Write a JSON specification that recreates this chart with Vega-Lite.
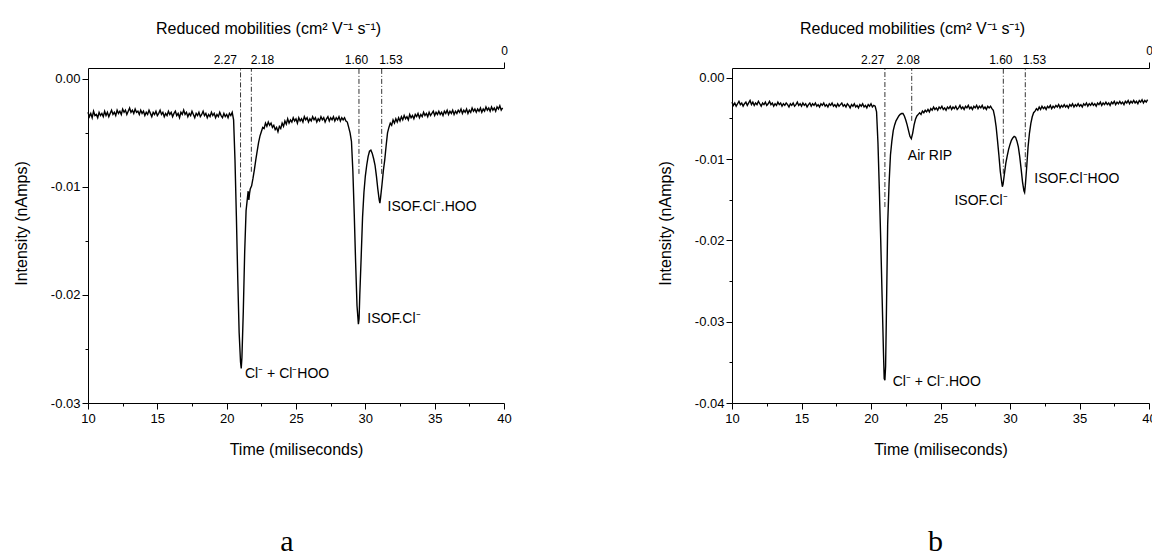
{
"$schema": "https://vega.github.io/schema/vega-lite/v6.json",
"background": "white",
"padding": {"left": 13, "top": 20, "right": 0, "bottom": 0},
"config": {"view": {"stroke": null}, "font": "Liberation Sans",
 "axis": {"grid": false, "labelFont": "Liberation Sans", "titleFont": "Liberation Sans", "labelFontSize": 13, "titleFontSize": 16, "titleFontWeight": "normal", "labelColor": "black", "titleColor": "black", "domainColor": "black", "tickColor": "black", "domainWidth": 1, "tickWidth": 1, "labelFlush": false, "labelOverlap": false}},
"spacing": 145,
"datasets": {
"a": [{"t":10.0,"i":-0.0031},{"t":10.1,"i":-0.0035},{"t":10.2,"i":-0.0032},{"t":10.3,"i":-0.0036},{"t":10.4,"i":-0.0030},{"t":10.5,"i":-0.0034},{"t":10.6,"i":-0.0033},{"t":10.7,"i":-0.0036},{"t":10.8,"i":-0.0031},{"t":10.9,"i":-0.0034},{"t":11.0,"i":-0.0032},{"t":11.1,"i":-0.0035},{"t":11.2,"i":-0.0030},{"t":11.3,"i":-0.0034},{"t":11.4,"i":-0.0031},{"t":11.5,"i":-0.0035},{"t":11.6,"i":-0.0032},{"t":11.7,"i":-0.0029},{"t":11.8,"i":-0.0033},{"t":11.9,"i":-0.0031},{"t":12.0,"i":-0.0034},{"t":12.1,"i":-0.0029},{"t":12.2,"i":-0.0032},{"t":12.3,"i":-0.0030},{"t":12.4,"i":-0.0033},{"t":12.5,"i":-0.0028},{"t":12.6,"i":-0.0031},{"t":12.7,"i":-0.0029},{"t":12.8,"i":-0.0033},{"t":12.9,"i":-0.0030},{"t":13.0,"i":-0.0027},{"t":13.1,"i":-0.0031},{"t":13.2,"i":-0.0029},{"t":13.3,"i":-0.0032},{"t":13.4,"i":-0.0028},{"t":13.5,"i":-0.0031},{"t":13.6,"i":-0.0030},{"t":13.7,"i":-0.0033},{"t":13.8,"i":-0.0029},{"t":13.9,"i":-0.0032},{"t":14.0,"i":-0.0030},{"t":14.1,"i":-0.0034},{"t":14.2,"i":-0.0031},{"t":14.3,"i":-0.0033},{"t":14.4,"i":-0.0029},{"t":14.5,"i":-0.0032},{"t":14.6,"i":-0.0035},{"t":14.7,"i":-0.0031},{"t":14.8,"i":-0.0033},{"t":14.9,"i":-0.0030},{"t":15.0,"i":-0.0034},{"t":15.1,"i":-0.0032},{"t":15.2,"i":-0.0029},{"t":15.3,"i":-0.0033},{"t":15.4,"i":-0.0031},{"t":15.5,"i":-0.0035},{"t":15.6,"i":-0.0032},{"t":15.7,"i":-0.0034},{"t":15.8,"i":-0.0030},{"t":15.9,"i":-0.0033},{"t":16.0,"i":-0.0031},{"t":16.1,"i":-0.0035},{"t":16.2,"i":-0.0032},{"t":16.3,"i":-0.0030},{"t":16.4,"i":-0.0034},{"t":16.5,"i":-0.0032},{"t":16.6,"i":-0.0036},{"t":16.7,"i":-0.0031},{"t":16.8,"i":-0.0033},{"t":16.9,"i":-0.0029},{"t":17.0,"i":-0.0033},{"t":17.1,"i":-0.0031},{"t":17.2,"i":-0.0035},{"t":17.3,"i":-0.0032},{"t":17.4,"i":-0.0034},{"t":17.5,"i":-0.0030},{"t":17.6,"i":-0.0033},{"t":17.7,"i":-0.0036},{"t":17.8,"i":-0.0032},{"t":17.9,"i":-0.0034},{"t":18.0,"i":-0.0031},{"t":18.1,"i":-0.0035},{"t":18.2,"i":-0.0033},{"t":18.3,"i":-0.0030},{"t":18.4,"i":-0.0034},{"t":18.5,"i":-0.0032},{"t":18.6,"i":-0.0036},{"t":18.7,"i":-0.0033},{"t":18.8,"i":-0.0035},{"t":18.9,"i":-0.0031},{"t":19.0,"i":-0.0034},{"t":19.1,"i":-0.0032},{"t":19.2,"i":-0.0036},{"t":19.3,"i":-0.0033},{"t":19.4,"i":-0.0035},{"t":19.5,"i":-0.0031},{"t":19.6,"i":-0.0034},{"t":19.7,"i":-0.0036},{"t":19.8,"i":-0.0032},{"t":19.9,"i":-0.0035},{"t":20.0,"i":-0.0033},{"t":20.1,"i":-0.0036},{"t":20.2,"i":-0.0032},{"t":20.3,"i":-0.0034},{"t":20.4,"i":-0.0031},
{"t":20.5,"i":-0.0038},{"t":20.6,"i":-0.0075},{"t":20.7,"i":-0.0127},{"t":20.8,"i":-0.0185},{"t":20.9,"i":-0.0235},{"t":21.0,"i":-0.0262},{"t":21.05,"i":-0.0268},{"t":21.1,"i":-0.0258},{"t":21.2,"i":-0.0215},{"t":21.3,"i":-0.0160},{"t":21.4,"i":-0.0122},{"t":21.5,"i":-0.0110},{"t":21.55,"i":-0.0104},{"t":21.6,"i":-0.0112},{"t":21.65,"i":-0.0106},{"t":21.7,"i":-0.0102},{"t":21.8,"i":-0.0099},{"t":21.9,"i":-0.0092},{"t":22.0,"i":-0.0084},{"t":22.1,"i":-0.0075},{"t":22.2,"i":-0.0067},{"t":22.3,"i":-0.0059},{"t":22.4,"i":-0.0053},{"t":22.5,"i":-0.0049},{"t":22.6,"i":-0.0045},{"t":22.7,"i":-0.0046},{"t":22.8,"i":-0.0041},{"t":22.9,"i":-0.0044},{"t":23.0,"i":-0.0040},{"t":23.1,"i":-0.0043},{"t":23.2,"i":-0.0041},{"t":23.3,"i":-0.0045},{"t":23.4,"i":-0.0043},{"t":23.5,"i":-0.0047},{"t":23.6,"i":-0.0045},{"t":23.7,"i":-0.0049},{"t":23.8,"i":-0.0044},{"t":23.9,"i":-0.0046},{"t":24.0,"i":-0.0041},{"t":24.1,"i":-0.0044},{"t":24.2,"i":-0.0039},{"t":24.3,"i":-0.0042},{"t":24.4,"i":-0.0037},{"t":24.5,"i":-0.0041},{"t":24.6,"i":-0.0038},{"t":24.7,"i":-0.0040},{"t":24.8,"i":-0.0036},{"t":24.9,"i":-0.0039},{"t":25.0,"i":-0.0037},{"t":25.1,"i":-0.0041},{"t":25.2,"i":-0.0036},{"t":25.3,"i":-0.0039},{"t":25.4,"i":-0.0037},{"t":25.5,"i":-0.0040},{"t":25.6,"i":-0.0035},{"t":25.7,"i":-0.0038},{"t":25.8,"i":-0.0036},{"t":25.9,"i":-0.0040},{"t":26.0,"i":-0.0037},{"t":26.1,"i":-0.0039},{"t":26.2,"i":-0.0035},{"t":26.3,"i":-0.0038},{"t":26.4,"i":-0.0036},{"t":26.5,"i":-0.0040},{"t":26.6,"i":-0.0037},{"t":26.7,"i":-0.0039},{"t":26.8,"i":-0.0035},{"t":26.9,"i":-0.0038},{"t":27.0,"i":-0.0036},{"t":27.1,"i":-0.0040},{"t":27.2,"i":-0.0037},{"t":27.3,"i":-0.0035},{"t":27.4,"i":-0.0039},{"t":27.5,"i":-0.0036},{"t":27.6,"i":-0.0038},{"t":27.7,"i":-0.0035},{"t":27.8,"i":-0.0039},{"t":27.9,"i":-0.0036},{"t":28.0,"i":-0.0038},{"t":28.1,"i":-0.0035},{"t":28.2,"i":-0.0039},{"t":28.3,"i":-0.0036},{"t":28.4,"i":-0.0038},{"t":28.5,"i":-0.0036},{"t":28.6,"i":-0.0039},{"t":28.7,"i":-0.0040},{"t":28.8,"i":-0.0045},{"t":28.9,"i":-0.0050},{"t":29.0,"i":-0.0058},{"t":29.1,"i":-0.0085},{"t":29.2,"i":-0.0125},{"t":29.3,"i":-0.0170},{"t":29.4,"i":-0.0210},{"t":29.5,"i":-0.0227},{"t":29.55,"i":-0.0222},{"t":29.6,"i":-0.0200},{"t":29.7,"i":-0.0165},{"t":29.8,"i":-0.0128},{"t":29.9,"i":-0.0105},{"t":30.0,"i":-0.0090},{"t":30.1,"i":-0.0080},{"t":30.2,"i":-0.0072},{"t":30.3,"i":-0.0067},{"t":30.4,"i":-0.0066},{"t":30.5,"i":-0.0069},{"t":30.6,"i":-0.0074},{"t":30.7,"i":-0.0080},{"t":30.8,"i":-0.0090},{"t":30.9,"i":-0.0102},{"t":31.0,"i":-0.0112},{"t":31.05,"i":-0.0115},{"t":31.1,"i":-0.0110},{"t":31.2,"i":-0.0098},{"t":31.3,"i":-0.0085},{"t":31.4,"i":-0.0075},{"t":31.5,"i":-0.0062},{"t":31.6,"i":-0.0050},{"t":31.7,"i":-0.0045},{"t":31.8,"i":-0.0041},{"t":31.9,"i":-0.0043},{"t":32.0,"i":-0.0038},{"t":32.1,"i":-0.0041},{"t":32.2,"i":-0.0037},{"t":32.3,"i":-0.0040},{"t":32.4,"i":-0.0036},{"t":32.5,"i":-0.0039},{"t":32.6,"i":-0.0035},{"t":32.7,"i":-0.0038},{"t":32.8,"i":-0.0034},{"t":32.9,"i":-0.0037},{"t":33.0,"i":-0.0035},{"t":33.1,"i":-0.0038},{"t":33.2,"i":-0.0033},{"t":33.3,"i":-0.0036},{"t":33.4,"i":-0.0034},{"t":33.5,"i":-0.0037},{"t":33.6,"i":-0.0033},{"t":33.7,"i":-0.0035},{"t":33.8,"i":-0.0032},{"t":33.9,"i":-0.0036},{"t":34.0,"i":-0.0033},{"t":34.1,"i":-0.0035},{"t":34.2,"i":-0.0031},{"t":34.3,"i":-0.0034},{"t":34.4,"i":-0.0032},{"t":34.5,"i":-0.0035},{"t":34.6,"i":-0.0031},{"t":34.7,"i":-0.0034},{"t":34.8,"i":-0.0032},{"t":34.9,"i":-0.0030},{"t":35.0,"i":-0.0034},{"t":35.1,"i":-0.0031},{"t":35.2,"i":-0.0033},{"t":35.3,"i":-0.0030},{"t":35.4,"i":-0.0033},{"t":35.5,"i":-0.0031},{"t":35.6,"i":-0.0034},{"t":35.7,"i":-0.0030},{"t":35.8,"i":-0.0032},{"t":35.9,"i":-0.0029},{"t":36.0,"i":-0.0033},{"t":36.1,"i":-0.0030},{"t":36.2,"i":-0.0032},{"t":36.3,"i":-0.0029},{"t":36.4,"i":-0.0033},{"t":36.5,"i":-0.0030},{"t":36.6,"i":-0.0032},{"t":36.7,"i":-0.0029},{"t":36.8,"i":-0.0031},{"t":36.9,"i":-0.0028},{"t":37.0,"i":-0.0032},{"t":37.1,"i":-0.0029},{"t":37.2,"i":-0.0031},{"t":37.3,"i":-0.0028},{"t":37.4,"i":-0.0032},{"t":37.5,"i":-0.0029},{"t":37.6,"i":-0.0031},{"t":37.7,"i":-0.0027},{"t":37.8,"i":-0.0030},{"t":37.9,"i":-0.0028},{"t":38.0,"i":-0.0031},{"t":38.1,"i":-0.0028},{"t":38.2,"i":-0.0030},{"t":38.3,"i":-0.0027},{"t":38.4,"i":-0.0031},{"t":38.5,"i":-0.0028},{"t":38.6,"i":-0.0030},{"t":38.7,"i":-0.0026},{"t":38.8,"i":-0.0029},{"t":38.9,"i":-0.0027},{"t":39.0,"i":-0.0030},{"t":39.1,"i":-0.0026},{"t":39.2,"i":-0.0029},{"t":39.3,"i":-0.0027},{"t":39.4,"i":-0.0030},{"t":39.5,"i":-0.0026},{"t":39.6,"i":-0.0028},{"t":39.7,"i":-0.0025},{"t":39.8,"i":-0.0029},{"t":39.9,"i":-0.0027}],
"b": [{"t":10.0,"i":-0.0030},{"t":10.1,"i":-0.0034},{"t":10.2,"i":-0.0031},{"t":10.3,"i":-0.0035},{"t":10.4,"i":-0.0032},{"t":10.5,"i":-0.0029},{"t":10.6,"i":-0.0033},{"t":10.7,"i":-0.0031},{"t":10.8,"i":-0.0035},{"t":10.9,"i":-0.0032},{"t":11.0,"i":-0.0030},{"t":11.1,"i":-0.0034},{"t":11.2,"i":-0.0031},{"t":11.3,"i":-0.0028},{"t":11.4,"i":-0.0033},{"t":11.5,"i":-0.0030},{"t":11.6,"i":-0.0034},{"t":11.7,"i":-0.0031},{"t":11.8,"i":-0.0033},{"t":11.9,"i":-0.0029},{"t":12.0,"i":-0.0032},{"t":12.1,"i":-0.0035},{"t":12.2,"i":-0.0031},{"t":12.3,"i":-0.0033},{"t":12.4,"i":-0.0030},{"t":12.5,"i":-0.0034},{"t":12.6,"i":-0.0032},{"t":12.7,"i":-0.0029},{"t":12.8,"i":-0.0033},{"t":12.9,"i":-0.0031},{"t":13.0,"i":-0.0035},{"t":13.1,"i":-0.0032},{"t":13.2,"i":-0.0034},{"t":13.3,"i":-0.0030},{"t":13.4,"i":-0.0033},{"t":13.5,"i":-0.0031},{"t":13.6,"i":-0.0035},{"t":13.7,"i":-0.0032},{"t":13.8,"i":-0.0034},{"t":13.9,"i":-0.0031},{"t":14.0,"i":-0.0033},{"t":14.1,"i":-0.0036},{"t":14.2,"i":-0.0032},{"t":14.3,"i":-0.0034},{"t":14.4,"i":-0.0031},{"t":14.5,"i":-0.0035},{"t":14.6,"i":-0.0033},{"t":14.7,"i":-0.0030},{"t":14.8,"i":-0.0034},{"t":14.9,"i":-0.0032},{"t":15.0,"i":-0.0035},{"t":15.1,"i":-0.0031},{"t":15.2,"i":-0.0034},{"t":15.3,"i":-0.0032},{"t":15.4,"i":-0.0036},{"t":15.5,"i":-0.0033},{"t":15.6,"i":-0.0031},{"t":15.7,"i":-0.0035},{"t":15.8,"i":-0.0032},{"t":15.9,"i":-0.0034},{"t":16.0,"i":-0.0031},{"t":16.1,"i":-0.0035},{"t":16.2,"i":-0.0033},{"t":16.3,"i":-0.0036},{"t":16.4,"i":-0.0032},{"t":16.5,"i":-0.0034},{"t":16.6,"i":-0.0031},{"t":16.7,"i":-0.0035},{"t":16.8,"i":-0.0033},{"t":16.9,"i":-0.0036},{"t":17.0,"i":-0.0032},{"t":17.1,"i":-0.0034},{"t":17.2,"i":-0.0031},{"t":17.3,"i":-0.0035},{"t":17.4,"i":-0.0033},{"t":17.5,"i":-0.0036},{"t":17.6,"i":-0.0032},{"t":17.7,"i":-0.0035},{"t":17.8,"i":-0.0033},{"t":17.9,"i":-0.0031},{"t":18.0,"i":-0.0035},{"t":18.1,"i":-0.0033},{"t":18.2,"i":-0.0036},{"t":18.3,"i":-0.0032},{"t":18.4,"i":-0.0034},{"t":18.5,"i":-0.0037},{"t":18.6,"i":-0.0033},{"t":18.7,"i":-0.0035},{"t":18.8,"i":-0.0032},{"t":18.9,"i":-0.0036},{"t":19.0,"i":-0.0034},{"t":19.1,"i":-0.0037},{"t":19.2,"i":-0.0033},{"t":19.3,"i":-0.0035},{"t":19.4,"i":-0.0032},{"t":19.5,"i":-0.0036},{"t":19.6,"i":-0.0034},{"t":19.7,"i":-0.0037},{"t":19.8,"i":-0.0033},{"t":19.9,"i":-0.0035},{"t":20.0,"i":-0.0032},{"t":20.1,"i":-0.0036},{"t":20.2,"i":-0.0034},
{"t":20.3,"i":-0.0035},{"t":20.4,"i":-0.0042},{"t":20.5,"i":-0.0080},{"t":20.6,"i":-0.0137},{"t":20.7,"i":-0.0200},{"t":20.8,"i":-0.0270},{"t":20.9,"i":-0.0340},{"t":20.95,"i":-0.0370},{"t":21.0,"i":-0.0372},{"t":21.05,"i":-0.0355},{"t":21.1,"i":-0.0300},{"t":21.2,"i":-0.0180},{"t":21.3,"i":-0.0130},{"t":21.4,"i":-0.0095},{"t":21.5,"i":-0.0078},{"t":21.6,"i":-0.0065},{"t":21.7,"i":-0.0058},{"t":21.8,"i":-0.0053},{"t":21.9,"i":-0.0050},{"t":22.0,"i":-0.0047},{"t":22.1,"i":-0.0045},{"t":22.2,"i":-0.0044},{"t":22.3,"i":-0.0044},{"t":22.4,"i":-0.0047},{"t":22.5,"i":-0.0052},{"t":22.6,"i":-0.0058},{"t":22.7,"i":-0.0065},{"t":22.8,"i":-0.0072},{"t":22.9,"i":-0.0075},{"t":23.0,"i":-0.0068},{"t":23.1,"i":-0.0058},{"t":23.2,"i":-0.0051},{"t":23.3,"i":-0.0047},{"t":23.4,"i":-0.0045},{"t":23.5,"i":-0.0043},{"t":23.6,"i":-0.0045},{"t":23.7,"i":-0.0041},{"t":23.8,"i":-0.0043},{"t":23.9,"i":-0.0040},{"t":24.0,"i":-0.0042},
{"t":24.1,"i":-0.0039},{"t":24.2,"i":-0.0042},{"t":24.3,"i":-0.0038},{"t":24.4,"i":-0.0040},{"t":24.5,"i":-0.0036},{"t":24.6,"i":-0.0039},{"t":24.7,"i":-0.0037},{"t":24.8,"i":-0.0040},{"t":24.9,"i":-0.0036},{"t":25.0,"i":-0.0038},{"t":25.1,"i":-0.0035},{"t":25.2,"i":-0.0039},{"t":25.3,"i":-0.0037},{"t":25.4,"i":-0.0040},{"t":25.5,"i":-0.0036},{"t":25.6,"i":-0.0038},{"t":25.7,"i":-0.0035},{"t":25.8,"i":-0.0039},{"t":25.9,"i":-0.0036},{"t":26.0,"i":-0.0038},{"t":26.1,"i":-0.0035},{"t":26.2,"i":-0.0039},{"t":26.3,"i":-0.0037},{"t":26.4,"i":-0.0034},{"t":26.5,"i":-0.0038},{"t":26.6,"i":-0.0036},{"t":26.7,"i":-0.0039},{"t":26.8,"i":-0.0035},{"t":26.9,"i":-0.0037},{"t":27.0,"i":-0.0034},{"t":27.1,"i":-0.0038},{"t":27.2,"i":-0.0036},{"t":27.3,"i":-0.0039},{"t":27.4,"i":-0.0035},{"t":27.5,"i":-0.0037},{"t":27.6,"i":-0.0034},{"t":27.7,"i":-0.0038},{"t":27.8,"i":-0.0035},{"t":27.9,"i":-0.0037},{"t":28.0,"i":-0.0034},{"t":28.1,"i":-0.0038},{"t":28.2,"i":-0.0036},{"t":28.3,"i":-0.0039},{"t":28.4,"i":-0.0035},{"t":28.5,"i":-0.0037},{"t":28.6,"i":-0.0035},{"t":28.7,"i":-0.0038},{"t":28.8,"i":-0.0040},
{"t":28.9,"i":-0.0048},{"t":29.0,"i":-0.0060},{"t":29.1,"i":-0.0077},{"t":29.2,"i":-0.0095},{"t":29.3,"i":-0.0115},{"t":29.4,"i":-0.0128},{"t":29.45,"i":-0.0134},{"t":29.5,"i":-0.0131},{"t":29.6,"i":-0.0118},{"t":29.7,"i":-0.0105},{"t":29.8,"i":-0.0096},{"t":29.9,"i":-0.0088},{"t":30.0,"i":-0.0082},{"t":30.1,"i":-0.0077},{"t":30.2,"i":-0.0074},{"t":30.3,"i":-0.0072},{"t":30.4,"i":-0.0073},{"t":30.5,"i":-0.0078},{"t":30.6,"i":-0.0085},{"t":30.7,"i":-0.0097},{"t":30.8,"i":-0.0112},{"t":30.9,"i":-0.0128},{"t":31.0,"i":-0.0139},{"t":31.05,"i":-0.0141},{"t":31.1,"i":-0.0133},{"t":31.2,"i":-0.0110},{"t":31.3,"i":-0.0085},{"t":31.4,"i":-0.0068},{"t":31.5,"i":-0.0056},{"t":31.6,"i":-0.0048},{"t":31.7,"i":-0.0043},{"t":31.8,"i":-0.0041},{"t":31.9,"i":-0.0038},
{"t":32.0,"i":-0.0040},{"t":32.1,"i":-0.0036},{"t":32.2,"i":-0.0039},{"t":32.3,"i":-0.0035},{"t":32.4,"i":-0.0038},{"t":32.5,"i":-0.0036},{"t":32.6,"i":-0.0039},{"t":32.7,"i":-0.0035},{"t":32.8,"i":-0.0037},{"t":32.9,"i":-0.0034},{"t":33.0,"i":-0.0038},{"t":33.1,"i":-0.0035},{"t":33.2,"i":-0.0037},{"t":33.3,"i":-0.0034},{"t":33.4,"i":-0.0036},{"t":33.5,"i":-0.0033},{"t":33.6,"i":-0.0037},{"t":33.7,"i":-0.0034},{"t":33.8,"i":-0.0036},{"t":33.9,"i":-0.0033},{"t":34.0,"i":-0.0036},{"t":34.1,"i":-0.0034},{"t":34.2,"i":-0.0037},{"t":34.3,"i":-0.0033},{"t":34.4,"i":-0.0035},{"t":34.5,"i":-0.0032},{"t":34.6,"i":-0.0036},{"t":34.7,"i":-0.0033},{"t":34.8,"i":-0.0035},{"t":34.9,"i":-0.0032},{"t":35.0,"i":-0.0035},{"t":35.1,"i":-0.0033},{"t":35.2,"i":-0.0036},{"t":35.3,"i":-0.0032},{"t":35.4,"i":-0.0034},{"t":35.5,"i":-0.0031},{"t":35.6,"i":-0.0035},{"t":35.7,"i":-0.0032},{"t":35.8,"i":-0.0034},{"t":35.9,"i":-0.0031},{"t":36.0,"i":-0.0034},{"t":36.1,"i":-0.0032},{"t":36.2,"i":-0.0035},{"t":36.3,"i":-0.0031},{"t":36.4,"i":-0.0033},{"t":36.5,"i":-0.0030},{"t":36.6,"i":-0.0034},{"t":36.7,"i":-0.0031},{"t":36.8,"i":-0.0033},{"t":36.9,"i":-0.0030},{"t":37.0,"i":-0.0033},{"t":37.1,"i":-0.0031},{"t":37.2,"i":-0.0034},{"t":37.3,"i":-0.0030},{"t":37.4,"i":-0.0032},{"t":37.5,"i":-0.0029},{"t":37.6,"i":-0.0033},{"t":37.7,"i":-0.0030},{"t":37.8,"i":-0.0032},{"t":37.9,"i":-0.0029},{"t":38.0,"i":-0.0032},{"t":38.1,"i":-0.0030},{"t":38.2,"i":-0.0033},{"t":38.3,"i":-0.0029},{"t":38.4,"i":-0.0031},{"t":38.5,"i":-0.0028},{"t":38.6,"i":-0.0032},{"t":38.7,"i":-0.0029},{"t":38.8,"i":-0.0031},{"t":38.9,"i":-0.0028},{"t":39.0,"i":-0.0031},{"t":39.1,"i":-0.0029},{"t":39.2,"i":-0.0032},{"t":39.3,"i":-0.0028},{"t":39.4,"i":-0.0030},{"t":39.5,"i":-0.0027},{"t":39.6,"i":-0.0031},{"t":39.7,"i":-0.0028},{"t":39.8,"i":-0.0030},{"t":39.9,"i":-0.0027}],
"ra": [{"t":21.0,"i":-0.0119},{"t":21.78,"i":-0.0086},{"t":29.54,"i":-0.0088},{"t":31.18,"i":-0.0088}],
"rb": [{"t":21.0,"i":-0.0159},{"t":22.93,"i":-0.0053},{"t":29.52,"i":-0.0118},{"t":31.1,"i":-0.0110}],
"la": [{"t":21.32,"i":-0.0273,"label":"Cl\u207b + Cl\u207bHOO"},{"t":30.14,"i":-0.0222,"label":"ISOF.Cl\u207b"},{"t":31.6,"i":-0.0119,"label":"ISOF.Cl\u207b.HOO"}],
"lb": [{"t":21.56,"i":-0.0374,"label":"Cl\u207b + Cl\u207b.HOO"},{"t":22.65,"i":-0.0096,"label":"Air RIP"},{"t":26.0,"i":-0.0151,"label":"ISOF.Cl\u207b"},{"t":31.75,"i":-0.0125,"label":"ISOF.Cl\u207bHOO"}]
},
"hconcat": [
{
 "width": 416, "height": 335,
 "title": {"text": "a", "orient": "bottom", "frame": "group", "font": "Liberation Serif", "fontSize": 30, "fontWeight": "normal", "color": "black", "offset": 70, "dx": -9},
 "layer": [
  {"data": {"name": "a"}, "mark": {"type": "line", "color": "black", "strokeWidth": 1.4},
   "encoding": {
    "x": {"field": "t", "type": "quantitative", "scale": {"domain": [10, 40], "nice": false, "zero": false},
      "axis": {"orient": "bottom", "values": [10, 15, 20, 25, 30, 35, 40], "format": "d", "title": "Time (miliseconds)", "tickSize": 6, "labelPadding": 3, "titlePadding": 16}},
    "y": {"field": "i", "type": "quantitative", "scale": {"domain": [-0.03, 0.001], "nice": false, "zero": false},
      "axis": {"orient": "left", "values": [0, -0.01, -0.02, -0.03], "labelExpr": "replace(format(datum.value, '.2f'), '\u2212', '-')", "title": "Intensity (nAmps)", "titleY": 155, "tickSize": 6, "labelPadding": 2, "titlePadding": 21}}
   }},
  {"data": {"name": "ra"}, "mark": {"type": "point", "opacity": 0},
   "encoding": {
    "x": {"field": "t", "type": "quantitative", "scale": {"domain": [10, 40], "nice": false, "zero": false},
      "axis": {"orient": "bottom", "values": [12.5, 17.5, 22.5, 27.5, 32.5, 37.5], "labels": false, "domain": false, "tickSize": 3, "title": null}},
    "y": {"field": "i", "type": "quantitative", "scale": {"domain": [-0.03, 0.001], "nice": false, "zero": false},
      "axis": {"orient": "left", "values": [-0.005, -0.015, -0.025], "labels": false, "domain": false, "tickSize": 3, "title": null}}
   }},
  {"data": {"name": "ra"}, "mark": {"type": "rule", "color": "black", "strokeWidth": 0.8, "strokeDash": [5, 2, 1, 2]},
   "encoding": {
    "x": {"field": "t", "type": "quantitative", "scale": {"domain": [10, 40], "nice": false, "zero": false},
      "axis": {"orient": "top", "values": [21.0, 21.78, 29.54, 31.18, 40], "labelFontSize": 12,
        "labelExpr": "datum.value < 21.5 ? '2.27' : datum.value < 25 ? '2.18' : datum.value < 30 ? '1.60' : datum.value < 35 ? '1.53' : '0'",
        "labelBound": false,
        "labelAlign": {"condition": [{"test": "datum.value < 21.5", "value": "right"}, {"test": "datum.value < 25", "value": "left"}, {"test": "datum.value < 30", "value": "center"}, {"test": "datum.value < 35", "value": "left"}], "value": "center"},
        "labelOffset": {"condition": [{"test": "datum.value < 21.5", "value": -4}, {"test": "datum.value < 25", "value": -1}, {"test": "datum.value < 35", "value": -3}], "value": 0},
        "tickSize": 6,
        "tickOpacity": {"condition": {"test": "datum.value > 39", "value": 1}, "value": 0},
        "labelPadding": {"condition": {"test": "datum.value > 39", "value": 5}, "value": -4},
        "title": "Reduced mobilities (cm\u00b2 V\u207b\u00b9 s\u207b\u00b9)", "titleX": 180, "titleY": -35, "titleBaseline": "alphabetic", "titleAlign": "center"}},
    "y": {"field": "i", "type": "quantitative", "scale": {"domain": [-0.03, 0.001], "nice": false, "zero": false}, "axis": null},
    "y2": {"datum": 0.001}
   }},
  {"data": {"name": "la"}, "mark": {"type": "text", "align": "left", "baseline": "middle", "font": "Liberation Sans", "fontSize": 14, "color": "black"},
   "encoding": {
    "x": {"field": "t", "type": "quantitative", "scale": {"domain": [10, 40], "nice": false, "zero": false}, "axis": null},
    "y": {"field": "i", "type": "quantitative", "scale": {"domain": [-0.03, 0.001], "nice": false, "zero": false}, "axis": null},
    "text": {"field": "label"}
   }}
 ],
 "resolve": {"axis": {"x": "independent", "y": "independent"}}
},
{
 "width": 417, "height": 335,
 "title": {"text": "b", "orient": "bottom", "frame": "group", "font": "Liberation Serif", "fontSize": 30, "fontWeight": "normal", "color": "black", "offset": 70, "dx": -5},
 "layer": [
  {"data": {"name": "b"}, "mark": {"type": "line", "color": "black", "strokeWidth": 1.4},
   "encoding": {
    "x": {"field": "t", "type": "quantitative", "scale": {"domain": [10, 40], "nice": false, "zero": false},
      "axis": {"orient": "bottom", "values": [10, 15, 20, 25, 30, 35, 40], "format": "d", "title": "Time (miliseconds)", "tickSize": 6, "labelPadding": 3, "titlePadding": 16}},
    "y": {"field": "i", "type": "quantitative", "scale": {"domain": [-0.04, 0.0012], "nice": false, "zero": false},
      "axis": {"orient": "left", "values": [0, -0.01, -0.02, -0.03, -0.04], "labelExpr": "replace(format(datum.value, '.2f'), '\u2212', '-')", "title": "Intensity (nAmps)", "titleY": 155, "tickSize": 6, "labelPadding": 2, "titlePadding": 21}}
   }},
  {"data": {"name": "rb"}, "mark": {"type": "point", "opacity": 0},
   "encoding": {
    "x": {"field": "t", "type": "quantitative", "scale": {"domain": [10, 40], "nice": false, "zero": false},
      "axis": {"orient": "bottom", "values": [12.5, 17.5, 22.5, 27.5, 32.5, 37.5], "labels": false, "domain": false, "tickSize": 3, "title": null}},
    "y": {"field": "i", "type": "quantitative", "scale": {"domain": [-0.04, 0.0012], "nice": false, "zero": false},
      "axis": {"orient": "left", "values": [-0.005, -0.015, -0.025, -0.035], "labels": false, "domain": false, "tickSize": 3, "title": null}}
   }},
  {"data": {"name": "rb"}, "mark": {"type": "rule", "color": "black", "strokeWidth": 0.8, "strokeDash": [5, 2, 1, 2]},
   "encoding": {
    "x": {"field": "t", "type": "quantitative", "scale": {"domain": [10, 40], "nice": false, "zero": false},
      "axis": {"orient": "top", "values": [21.0, 22.93, 29.52, 31.1, 40], "labelFontSize": 12,
        "labelExpr": "datum.value < 21.5 ? '2.27' : datum.value < 25 ? '2.08' : datum.value < 30 ? '1.60' : datum.value < 35 ? '1.53' : '0'",
        "labelBound": false,
        "labelAlign": {"condition": [{"test": "datum.value < 21.5", "value": "right"}, {"test": "datum.value < 30", "value": "center"}, {"test": "datum.value < 35", "value": "left"}], "value": "center"},
        "labelOffset": {"condition": [{"test": "datum.value < 21.5", "value": -1}, {"test": "datum.value < 25", "value": -4}, {"test": "datum.value < 35", "value": -3}], "value": 0},
        "tickSize": 6,
        "tickOpacity": {"condition": {"test": "datum.value > 39", "value": 1}, "value": 0},
        "labelPadding": {"condition": {"test": "datum.value > 39", "value": 5}, "value": -4},
        "title": "Reduced mobilities (cm\u00b2 V\u207b\u00b9 s\u207b\u00b9)", "titleX": 180, "titleY": -35, "titleBaseline": "alphabetic", "titleAlign": "center"}},
    "y": {"field": "i", "type": "quantitative", "scale": {"domain": [-0.04, 0.0012], "nice": false, "zero": false}, "axis": null},
    "y2": {"datum": 0.0012}
   }},
  {"data": {"name": "lb"}, "mark": {"type": "text", "align": "left", "baseline": "middle", "font": "Liberation Sans", "fontSize": 14, "color": "black"},
   "encoding": {
    "x": {"field": "t", "type": "quantitative", "scale": {"domain": [10, 40], "nice": false, "zero": false}, "axis": null},
    "y": {"field": "i", "type": "quantitative", "scale": {"domain": [-0.04, 0.0012], "nice": false, "zero": false}, "axis": null},
    "text": {"field": "label"}
   }}
 ],
 "resolve": {"axis": {"x": "independent", "y": "independent"}}
}
]
}
